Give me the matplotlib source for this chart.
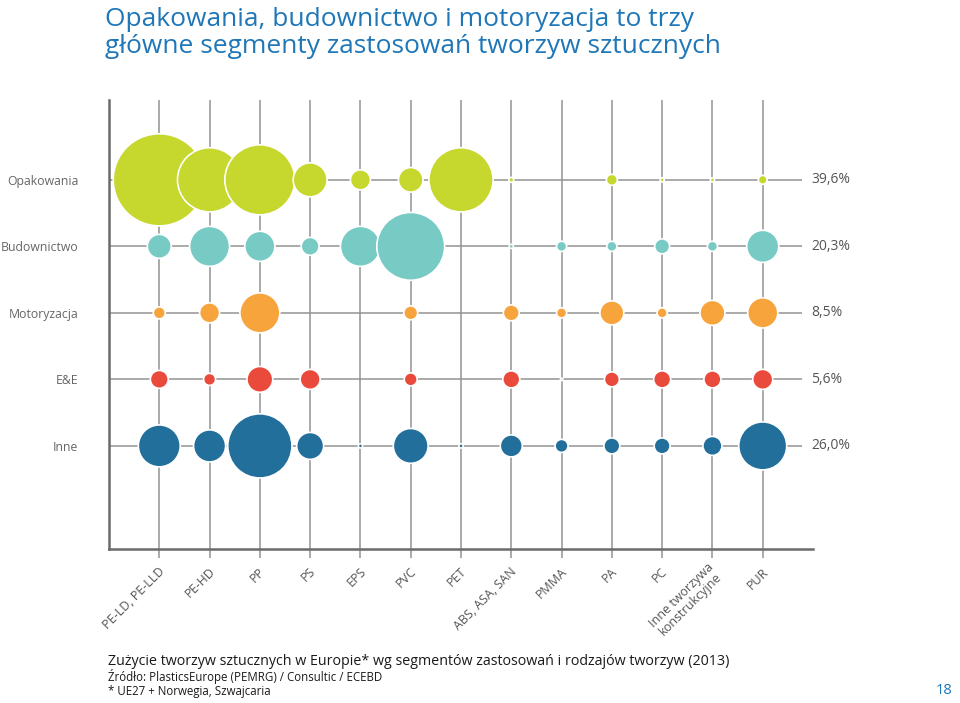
import matplotlib
matplotlib.use('Agg')
from matplotlib import pyplot as plt
import numpy as np

# tworzywa (kolumny)
plastics = ['PE-LD, PE-LLD', 'PE-HD', 'PP', 'PS', 'EPS', 'PVC', 'PET',
            'ABS, ASA, SAN', 'PMMA', 'PA', 'PC',
            'Inne tworzywa\nkonstrukcyjne', 'PUR']
segments = ['Opakowania', 'Budownictwo', 'Motoryzacja', 'E&E', 'Inne']
totals = ['39,6%', '20,3%', '8,5%', '5,6%', '26,0%']
colors = ['#c6d72d', '#77cbc4', '#f7a43c', '#ea4a3b', '#236f9b']

opakowania = [14.0, 6.8, 8.1, 1.9, 0.66, 1.0, 6.8, 0.04, 0.0, 0.2, 0.03, 0.03, 0.13]
budownictwo = [0.95, 2.64, 1.5, 0.53, 2.64, 7.6, 0.0, 0.03, 0.17, 0.17, 0.37, 0.17, 1.7]
motoryzacja = [0.24, 0.66, 2.64, 0.0, 0.0, 0.32, 0.0, 0.42, 0.17, 0.95, 0.17, 1.03, 1.5]
ee = [0.53, 0.24, 1.1, 0.66, 0.0, 0.28, 0.0, 0.48, 0.01, 0.37, 0.48, 0.48, 0.66]
inne = [2.9, 1.7, 6.8, 1.2, 0.03, 2.0, 0.03, 0.8, 0.28, 0.42, 0.42, 0.6, 3.8]
values = [opakowania, budownictwo, motoryzacja, ee, inne]

plt.rcParams['font.family'] = ['Open Sans', 'DejaVu Sans']

fig = plt.figure(figsize=(9.6, 7.03), dpi=100)
ax = fig.add_axes([109 / 960, 1 - 549 / 703, 704 / 960, 449 / 703])

x = np.arange(len(plastics))
y_top, y_bot = -1.2, 5.55
grid_c = '#939393'

ax.vlines(x, y_top, y_bot, color=grid_c, lw=1.1, zorder=1)
ax.hlines(np.arange(len(segments)), -1, 12.78, color=grid_c, lw=1.1, zorder=1)

for i, row in enumerate(values):
    v = np.array(row)
    m = v > 0
    ax.scatter(x[m], np.full(m.sum(), i), s=v[m] * 314, color=colors[i],
               edgecolor='white', linewidth=1.2, zorder=3)
    ax.text(12.97, i, totals[i], va='center', ha='left', fontsize=10,
            color='#555555')

ax.set_xlim(-1, 13)
ax.set_ylim(y_bot, y_top)

for side in ['top', 'right']:
    ax.spines[side].set_visible(False)
for side in ['left', 'bottom']:
    ax.spines[side].set_color('#6b6b6b')
    ax.spines[side].set_linewidth(1.8)

ax.set_yticks(np.arange(len(segments)))
ax.set_yticklabels(segments, fontsize=8.8, color='#666666')
ax.tick_params(axis='y', length=0, pad=22)

ax.set_xticks(x)
ax.set_xticklabels([])
ax.tick_params(axis='x', length=6.5, width=1.1, color=grid_c)

for xi, lab in zip(x, plastics):
    ax.annotate(lab, xy=(xi, y_bot), xycoords='data', xytext=(2.5, -15),
                textcoords='offset points', rotation=45, ha='right',
                va='center', rotation_mode='anchor', fontsize=9,
                color='#555555', multialignment='center', linespacing=1.0)

fig.text(105 / 960, 1 - 7 / 703,
         'Opakowania, budownictwo i motoryzacja to trzy\n'
         'główne segmenty zastosowań tworzyw sztucznych',
         fontsize=19, color='#1f77b8', va='top', ha='left',
         linespacing=1.1)

fig.text(108 / 960, 1 - 665 / 703,
         'Zużycie tworzyw sztucznych w Europie* wg segmentów zastosowań i rodzajów tworzyw (2013)',
         fontsize=10.3, color='#1a1a1a', va='baseline')
fig.text(108 / 960, 1 - 681 / 703,
         'Źródło: PlasticsEurope (PEMRG) / Consultic / ECEBD',
         fontsize=8.3, color='#1a1a1a', va='baseline')
fig.text(108 / 960, 1 - 695 / 703, '* UE27 + Norwegia, Szwajcaria',
         fontsize=8.3, color='#1a1a1a', va='baseline')
fig.text(952 / 960, 1 - 694 / 703, '18', fontsize=10.5, color='#1f77b8',
         va='baseline', ha='right')

fig.savefig('out.png', dpi=100)
